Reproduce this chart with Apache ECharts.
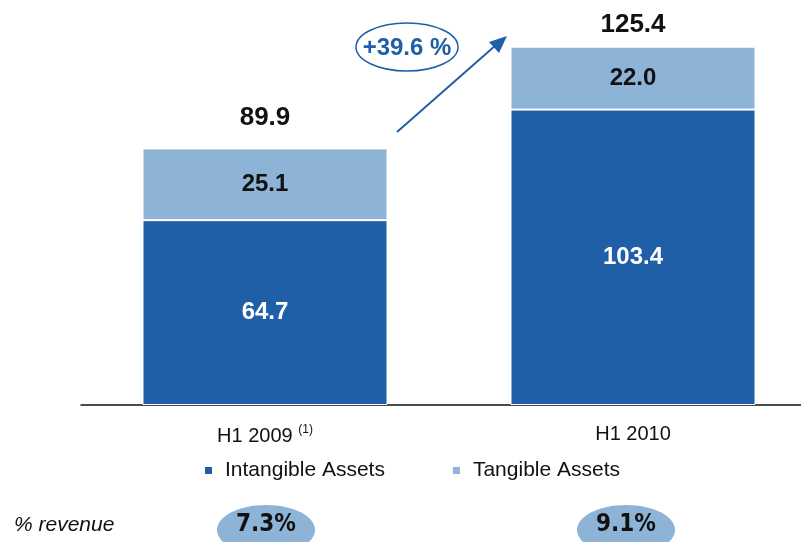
<!DOCTYPE html>
<html>
<head>
<meta charset="utf-8">
<script src="https://cdn.jsdelivr.net/npm/echarts@6/dist/echarts.min.js"></script>
<style>
  html, body { margin: 0; padding: 0; background: #fff; }
  #app { width: 801px; height: 542px; }
</style>
</head>
<body>
<div id="app"></div>
<script>
var categories = ['H1 2009', 'H1 2010'];
var intangible = [64.7, 103.4];
var tangible = [25.1, 22.0];
var totals = [89.9, 125.4];
var revenuePct = ['7.3%', '9.1%'];
var growthLabel = '+39.6 %';

var DARK = '#1f5fa8';
var LIGHT = '#8db3d7';
var FONT = '"Liberation Sans", Arial, sans-serif';
var NARROW = '"Liberation Sans Narrow", "DejaVu Sans Condensed", "Liberation Sans", sans-serif';

// total labels sit at slightly different heights above each bar
var totalLabelGap = [18, 9];

var chart = echarts.init(document.getElementById('app'));

chart.setOption({
    animation: false,
    textStyle: { fontFamily: FONT },
    grid: { left: 81, width: 736, top: 5, bottom: 137, outerBoundsMode: 'none', containLabel: false },
    legend: {
        top: 455,
        left: 198,
        itemWidth: 9,
        itemHeight: 9,
        itemGap: 66,
        icon: 'rect',
        textStyle: { fontSize: 21, color: '#111', fontFamily: FONT, padding: [0, 0, 0, 7] },
        data: ['Intangible Assets', 'Tangible Assets']
    },
    xAxis: {
        type: 'category',
        data: categories,
        axisLine: { lineStyle: { color: '#111', width: 1.5 } },
        axisTick: { show: false },
        axisLabel: {
            margin: 19,
            color: '#111',
            fontSize: 20,
            formatter: function (v, i) {
                return i === 0 ? v + ' {sup|(1)}' : v;
            },
            rich: { sup: { fontSize: 12, verticalAlign: 'top', padding: [0, 0, 12, 0], color: '#111' } }
        }
    },
    yAxis: {
        type: 'value',
        min: 0,
        max: 140,
        show: false,
        splitLine: { show: false }
    },
    series: [
        {
            name: 'Intangible Assets',
            type: 'bar',
            stack: 'capex',
            barWidth: 245,
            data: intangible,
            itemStyle: { color: DARK, borderColor: '#fff', borderWidth: 1 },
            label: {
                show: true,
                position: 'inside',
                color: '#fff',
                fontSize: 24,
                fontWeight: 'bold',
                formatter: function (p) { return p.value.toFixed(1); }
            }
        },
        {
            name: 'Tangible Assets',
            type: 'bar',
            stack: 'capex',
            barWidth: 245,
            data: tangible,
            itemStyle: { color: LIGHT, borderColor: '#fff', borderWidth: 1 },
            label: {
                show: true,
                position: 'inside',
                color: '#111',
                fontSize: 24,
                fontWeight: 'bold',
                formatter: function (p) { return p.value.toFixed(1); }
            }
        },
        {
            name: 'total',
            type: 'bar',
            stack: 'capex',
            barWidth: 245,
            data: totals.map(function (t, i) {
                return { value: 0, label: { distance: totalLabelGap[i] } };
            }),
            itemStyle: { color: 'transparent' },
            label: {
                show: true,
                position: 'top',
                color: '#111',
                fontSize: 26,
                fontWeight: 'bold',
                formatter: function (p) { return totals[p.dataIndex].toFixed(1); }
            },
            tooltip: { show: false }
        }
    ]
});

// annotations: growth arrow, growth ellipse, % revenue row
var p0 = chart.convertToPixel({ gridIndex: 0 }, [0, 0]);
var p1 = chart.convertToPixel({ gridIndex: 0 }, [1, 0]);

var graphics = [
    {
        type: 'line',
        shape: { x1: 397, y1: 132, x2: 496, y2: 45 },
        style: { stroke: DARK, lineWidth: 2 }
    },
    {
        type: 'polygon',
        shape: { points: [[507, 36], [489, 42], [499, 53]] },
        style: { fill: DARK }
    },
    {
        type: 'ellipse',
        shape: { cx: 407, cy: 47, rx: 51, ry: 24 },
        style: { fill: '#fff', stroke: DARK, lineWidth: 1.5 }
    },
    {
        type: 'text',
        x: 407, y: 48,
        style: {
            text: growthLabel, fill: DARK, font: 'bold 24px ' + FONT,
            align: 'center', verticalAlign: 'middle'
        }
    },
    {
        type: 'text',
        x: 14, y: 525,
        style: {
            text: '% revenue', fill: '#111', font: 'italic 21px ' + FONT,
            align: 'left', verticalAlign: 'middle'
        }
    }
];

var pctX = [p0[0] + 1, p1[0] - 7];
revenuePct.forEach(function (t, i) {
    graphics.push({
        type: 'ellipse',
        shape: { cx: pctX[i], cy: 530, rx: 49, ry: 25 },
        style: { fill: LIGHT }
    });
    graphics.push({
        type: 'text',
        x: pctX[i], y: 525,
        style: {
            text: t, fill: '#111', font: 'bold 24px ' + NARROW,
            align: 'center', verticalAlign: 'middle'
        }
    });
});

chart.setOption({ graphic: graphics });
</script>
</body>
</html>
